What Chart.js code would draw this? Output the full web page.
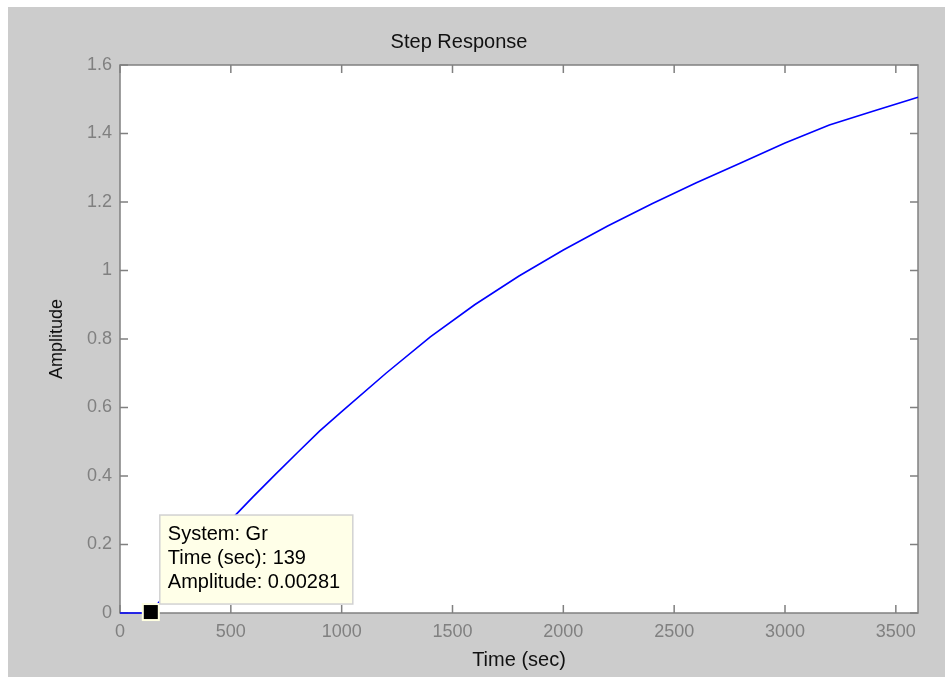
<!DOCTYPE html>
<html>
<head>
<meta charset="utf-8">
<title>Step Response</title>
<script src="https://cdn.jsdelivr.net/npm/chart.js@4.4.1/dist/chart.umd.min.js"></script>
<style>
  html, body { margin: 0; padding: 0; background: #ffffff; }
  #fig { position: absolute; left: 8px; top: 7px; width: 937px; height: 670px; background: #cccccc; }
  #stepCanvas { position: absolute; left: 0; top: 0; }
</style>
</head>
<body>
<div id="fig"></div>
<canvas id="stepCanvas" width="945" height="677"></canvas>
<script>
// step response of Gr
const times = [0, 135, 139, 200, 300, 400, 500, 600, 700, 800, 900, 1000,
  1200, 1400, 1600, 1800, 2000, 2200, 2400, 2600, 2800, 3000, 3200, 3400, 3600];
const amplitude = [0, 0, 0.003, 0.05, 0.126, 0.2, 0.272, 0.339, 0.404, 0.468, 0.531, 0.588,
  0.7, 0.806, 0.9, 0.984, 1.06, 1.13, 1.195, 1.256, 1.314, 1.372, 1.425, 1.466, 1.506];

const xTicks = [0, 500, 1000, 1500, 2000, 2500, 3000, 3500];
const xTickLabels = ["0", "500", "1000", "1500", "2000", "2500", "3000", "3500"];
const yTicks = [0, 0.2, 0.4, 0.6, 0.8, 1, 1.2, 1.4, 1.6];
const yTickLabels = ["0", "0.2", "0.4", "0.6", "0.8", "1", "1.2", "1.4", "1.6"];

// data cursor
const cursorSystem = "Gr";
const cursorTime = 139;
const cursorAmp = 0.00281;

const FONT = "'Liberation Sans', Arial, sans-serif";
const axisColor = "#808080";

// white axes box with ticks pointing inward on all four sides
const matlabAxes = {
  id: "matlabAxes",
  beforeDatasetsDraw(chart) {
    const { ctx, chartArea: a, scales: { x, y } } = chart;
    const len = 8;
    ctx.save();
    ctx.fillStyle = "#ffffff";
    ctx.fillRect(a.left, a.top, a.width, a.height);
    ctx.strokeStyle = axisColor;
    ctx.lineWidth = 1.5;
    ctx.beginPath();
    x.ticks.forEach(t => {
      const px = x.getPixelForValue(t.value);
      ctx.moveTo(px, a.bottom); ctx.lineTo(px, a.bottom - len);
      ctx.moveTo(px, a.top); ctx.lineTo(px, a.top + len);
    });
    y.ticks.forEach(t => {
      const py = y.getPixelForValue(t.value);
      ctx.moveTo(a.left, py); ctx.lineTo(a.left + len, py);
      ctx.moveTo(a.right, py); ctx.lineTo(a.right - len, py);
    });
    ctx.stroke();
    ctx.strokeRect(a.left, a.top, a.width, a.height);
    ctx.restore();
  }
};

// datatip box like the matlab data cursor
const dataTip = {
  id: "dataTip",
  afterDraw(chart) {
    const { ctx, scales: { x, y } } = chart;
    const px = x.getPixelForValue(cursorTime);
    const py = y.getPixelForValue(cursorAmp);
    ctx.save();
    // marker
    ctx.fillStyle = "#ffffe1";
    ctx.fillRect(px - 9, py - 9, 18, 18);
    ctx.fillStyle = "#000000";
    ctx.fillRect(px - 7, py - 7, 14, 14);
    // box
    const left = px + 9, top = py - 97, w = 193, h = 89;
    ctx.fillStyle = "#ffffe8";
    ctx.fillRect(left, top, w, h);
    ctx.strokeStyle = "#d2d2d2";
    ctx.lineWidth = 1.5;
    ctx.strokeRect(left, top, w, h);
    ctx.fillStyle = "#000000";
    ctx.font = "20px " + FONT;
    ctx.textBaseline = "middle";
    ctx.textAlign = "left";
    const lines = [
      "System: " + cursorSystem,
      "Time (sec): " + cursorTime,
      "Amplitude: " + cursorAmp
    ];
    lines.forEach((s, i) => ctx.fillText(s, left + 8, top + 19 + i * 24));
    ctx.restore();
  }
};

const data = {
  datasets: [
    {
      label: "Gr",
      data: times.map((t, i) => ({ x: t, y: amplitude[i] })),
      borderColor: "#0000ff",
      borderWidth: 1.6,
      pointRadius: 0,
      tension: 0,
      fill: false,
      clip: 4,
    },
  ],
};

const config = {
  type: "line",
  data: data,
  options: {
    responsive: false,
    animation: false,
    layout: {
      padding: { left: 0, right: 27, top: 0, bottom: 0 },
    },
    plugins: {
      legend: { display: false },
      tooltip: { enabled: false },
      title: {
        display: true,
        text: "Step Response",
        color: "#111111",
        font: { family: FONT, size: 20, weight: "normal" },
        padding: { top: 30, bottom: 11 },
      },
    },
    scales: {
      x: {
        type: "linear",
        min: 0,
        max: 3600,
        afterBuildTicks: scale => { scale.ticks = xTicks.map(v => ({ value: v })); },
        afterFit: scale => { scale.height = 64; },
        grid: { display: false, drawTicks: false },
        border: { display: false },
        ticks: {
          color: axisColor,
          font: { family: FONT, size: 18 },
          padding: 8,
          maxRotation: 0,
          callback: (v, i) => xTickLabels[i],
        },
        title: {
          display: true,
          text: "Time (sec)",
          color: "#111111",
          font: { family: FONT, size: 20 },
          padding: { top: 0, bottom: 5 },
        },
      },
      y: {
        type: "linear",
        min: 0,
        max: 1.6,
        afterBuildTicks: scale => { scale.ticks = yTicks.map(v => ({ value: v })); },
        afterFit: scale => { scale.width = 120; },
        grid: { display: false, drawTicks: false },
        border: { display: false },
        ticks: {
          color: axisColor,
          font: { family: FONT, size: 18 },
          padding: 8,
          callback: (v, i) => yTickLabels[i],
        },
        title: {
          display: true,
          text: "Amplitude",
          color: "#111111",
          font: { family: FONT, size: 18 },
          padding: { top: 46, bottom: 0 },
        },
      },
    },
  },
  plugins: [matlabAxes, dataTip],
};

const canvas = document.getElementById("stepCanvas");
if (canvas) {
  new Chart(canvas.getContext("2d"), config);
} else {
  console.error("canvas not found");
}
</script>
</body>
</html>
